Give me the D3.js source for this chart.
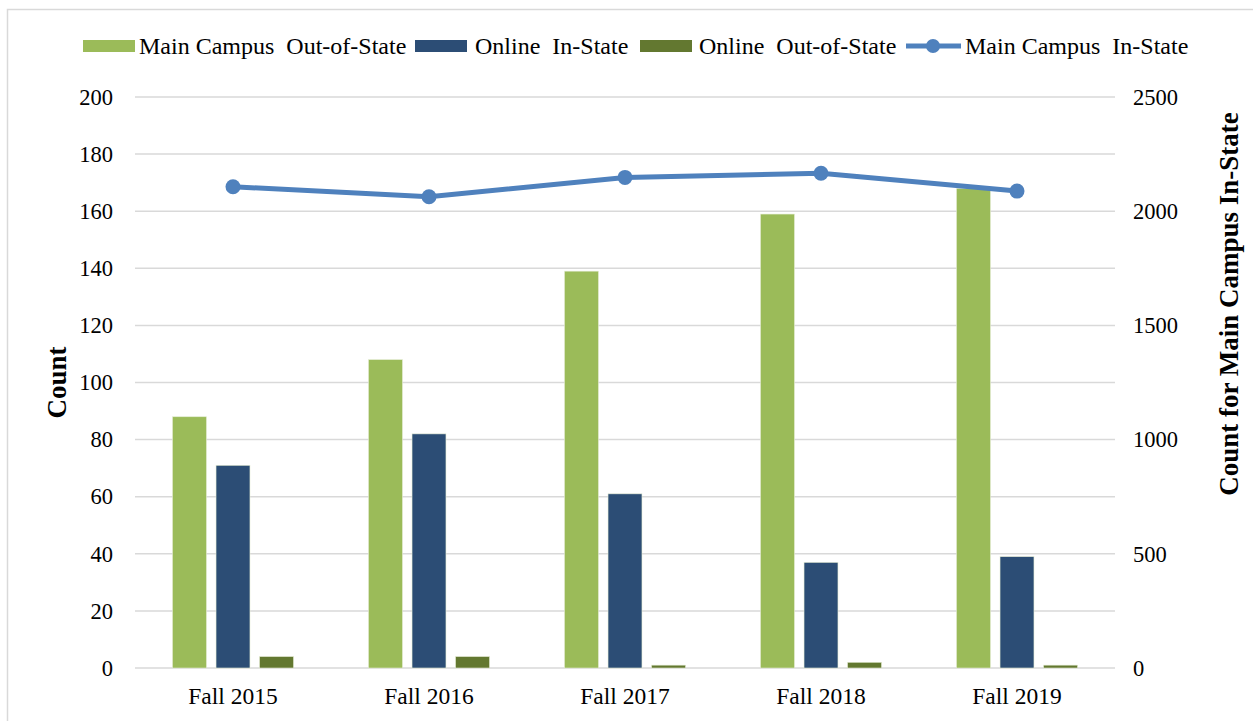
<!DOCTYPE html>
<html>
<head>
<meta charset="utf-8">
<script src="https://cdn.jsdelivr.net/npm/d3@7"></script>
<style>
  html, body { margin: 0; padding: 0; background: #fff; }
  svg { display: block; font-family: "Liberation Serif", "Times New Roman", serif; }
</style>
</head>
<body>
<svg id="chart" width="1253" height="721"></svg>
<script>
const categories = ["Fall 2015", "Fall 2016", "Fall 2017", "Fall 2018", "Fall 2019"];
const mainOutOfState = [88, 108, 139, 159, 168];
const onlineInState = [71, 82, 61, 37, 39];
const onlineOutOfState = [4, 4, 1, 2, 1];
const mainInState = [2107, 2063, 2148, 2166, 2088];
const leftTicks = [0, 20, 40, 60, 80, 100, 120, 140, 160, 180, 200];
const rightTicks = [0, 500, 1000, 1500, 2000, 2500];
const barSeries = [
  { name: "Main Campus  Out-of-State", values: mainOutOfState, color: "#9bbb59" },
  { name: "Online  In-State", values: onlineInState, color: "#2c4d75" },
  { name: "Online  Out-of-State", values: onlineOutOfState, color: "#637830" }
];
const lineSeries = { name: "Main Campus  In-State", values: mainInState, color: "#4f81bd" };

const svg = d3.select("#chart");
const m = { left: 135, right: 1115, top: 97, bottom: 668 };

svg.append("rect").attr("x", 7.5).attr("y", 9.5).attr("width", 1270).attr("height", 730)
  .attr("fill", "#fff").attr("stroke", "#d9d9d9").attr("stroke-width", 1.5);

const x = d3.scaleBand().domain(categories).range([m.left, m.right]).paddingInner(0).paddingOuter(0);
const y = d3.scaleLinear().domain([0, 200]).range([m.bottom, m.top]);
const y2 = d3.scaleLinear().domain([0, 2500]).range([m.bottom, m.top]);

// gridlines
svg.append("g").selectAll("line").data(leftTicks).join("line")
  .attr("x1", m.left).attr("x2", m.right)
  .attr("y1", d => y(d)).attr("y2", d => y(d))
  .attr("stroke", "#d9d9d9").attr("stroke-width", 1.5);

// left axis labels
const yAxis = d3.axisLeft(y).tickValues(leftTicks).tickSize(0).tickPadding(22);
const gL = svg.append("g").attr("transform", `translate(${m.left},0)`).call(yAxis);
gL.select(".domain").remove();
gL.selectAll("text").attr("font-family", "Liberation Serif").attr("font-size", 22.5).attr("fill", "#000");

const y2Axis = d3.axisRight(y2).tickValues(rightTicks).tickFormat(d3.format("d")).tickSize(0).tickPadding(18);
const gR = svg.append("g").attr("transform", `translate(${m.right},0)`).call(y2Axis);
gR.select(".domain").remove();
gR.selectAll("text").attr("font-family", "Liberation Serif").attr("font-size", 22.5).attr("fill", "#000");

const xAxis = d3.axisBottom(x).tickSize(0).tickPadding(19);
const gX = svg.append("g").attr("transform", `translate(0,${m.bottom})`).call(xAxis);
gX.select(".domain").remove();
gX.selectAll("text").attr("font-family", "Liberation Serif").attr("font-size", 23.5).attr("fill", "#000");

// bars
const inner = d3.scaleBand().domain(d3.range(barSeries.length)).range([0, 121]).paddingInner(0.22).paddingOuter(0);
barSeries.forEach((s, si) => {
  svg.append("g").selectAll("rect").data(s.values).join("rect")
    .attr("x", (d, i) => x(categories[i]) + x.bandwidth() / 2 - 60.5 + inner(si))
    .attr("y", d => y(d))
    .attr("width", inner.bandwidth())
    .attr("height", d => y(0) - y(d))
    .attr("fill", s.color)
    .attr("stroke", "#e4ecd4").attr("stroke-width", 0.6);
});

// line
const line = d3.line().x((d, i) => x(categories[i]) + x.bandwidth() / 2).y(d => y2(d));
svg.append("path").datum(lineSeries.values).attr("d", line)
  .attr("fill", "none").attr("stroke", lineSeries.color).attr("stroke-width", 5);
svg.append("g").selectAll("circle").data(lineSeries.values).join("circle")
  .attr("cx", (d, i) => x(categories[i]) + x.bandwidth() / 2)
  .attr("cy", d => y2(d)).attr("r", 7.5).attr("fill", lineSeries.color);

// axis titles
svg.append("text").attr("transform", `translate(66,${(m.top + m.bottom) / 2}) rotate(-90)`)
  .attr("text-anchor", "middle").attr("font-weight", "bold").attr("font-size", 27).text("Count");
svg.append("text").attr("transform", `translate(1238,304) rotate(-90)`)
  .attr("text-anchor", "middle").attr("font-weight", "bold").attr("font-size", 27).text("Count for Main Campus In-State");

// legend
const legendItems = [
  { s: barSeries[0], x: 83, tx: 139, type: "bar" },
  { s: barSeries[1], x: 415, tx: 475, type: "bar" },
  { s: barSeries[2], x: 640, tx: 699, type: "bar" },
  { s: lineSeries, x: 906, tx: 965, type: "line" }
];
const lg = svg.append("g");
legendItems.forEach(it => {
  if (it.type === "bar") {
    lg.append("rect").attr("x", it.x).attr("y", 40).attr("width", 52).attr("height", 12).attr("fill", it.s.color);
  } else {
    lg.append("line").attr("x1", it.x).attr("x2", it.x + 55).attr("y1", 46).attr("y2", 46)
      .attr("stroke", it.s.color).attr("stroke-width", 5);
    lg.append("circle").attr("cx", it.x + 27).attr("cy", 46).attr("r", 7).attr("fill", it.s.color);
  }
  lg.append("text").attr("x", it.tx).attr("y", 54).attr("font-size", 24)
    .attr("xml:space", "preserve").style("white-space", "pre").text(it.s.name);
});
</script>
</body>
</html>
